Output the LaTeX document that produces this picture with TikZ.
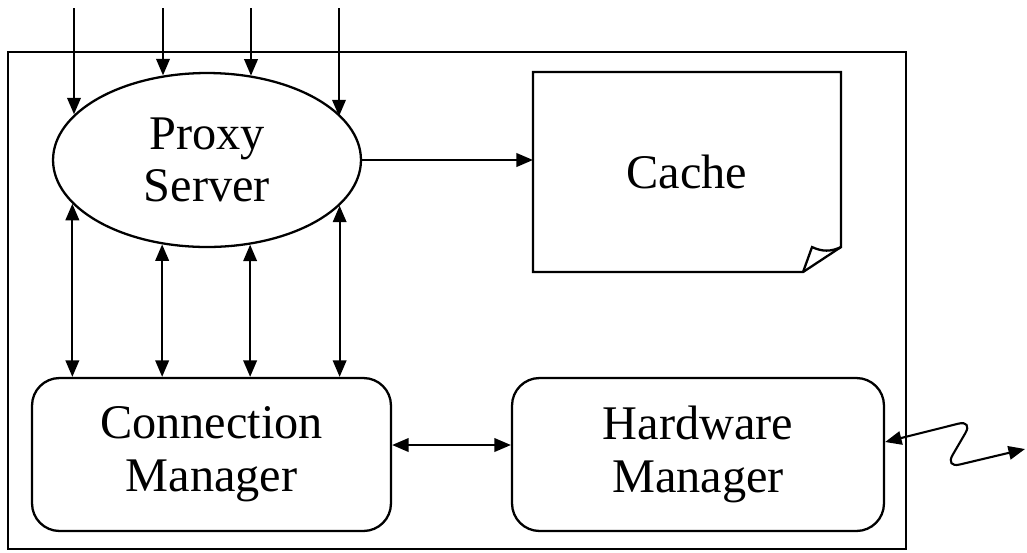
\documentclass[tikz,border=0pt]{standalone}
\usepackage{fontspec}
\setmainfont{Liberation Serif}
\usetikzlibrary{shapes.geometric,arrows.meta,calc}

\begin{document}
\begin{tikzpicture}[x=0.02cm,y=-0.02cm,line width=1.2pt,
        >={Triangle[length=0.33cm,width=0.27cm]},
        every node/.style={font=\fontsize{27.5}{30}\selectfont,align=center,inner sep=0pt},
        block/.style={draw,line width=1.3pt,rounded corners=0.55cm,minimum height=3.06cm}]
                \useasboundingbox (0,0) rectangle (1027,552);
                \draw[line width=1.3pt] (8,52) rectangle (906,549);
                \node[draw,ellipse,line width=1.3pt,minimum width=6.16cm,minimum height=3.48cm] (ps) at (207,160) {Proxy\\Server};
                \node[minimum width=6.12cm,minimum height=3.96cm] (cache) at (687,172) {Cache};
                \draw[line width=1.3pt] ($(cache.south east)+(-0.76cm,0)$) -- (cache.south west) -- (cache.north west) -- (cache.north east) -- ($(cache.south east)+(0,0.5cm)$) -- cycle;
                \draw[line width=1.3pt] ($(cache.south east)+(-0.76cm,0)$) -- ($(cache.south east)+(-0.58cm,0.5cm)$) to[bend right=25] ($(cache.south east)+(0,0.5cm)$);
                \node[block,minimum width=7.18cm] (cm) at (211.5,454.5) {Connection\\Manager};
                \node[block,minimum width=7.44cm] (hm) at (698,454.5) {Hardware\\Manager};
                \coordinate (in1) at (74,8);
                \coordinate (in2) at (163,8);
                \coordinate (in3) at (251,8);
                \coordinate (in4) at (339,8);
                \coordinate (ant) at (1025,449);
                \draw[->] (in1) -- (in1 |- ps.161.7);
                \draw[->] (in2) -- (in2 |- ps.117.8);
                \draw[->] (in3) -- (in3 |- ps.62.2);
                \draw[->] (in4) -- (in4 |- ps.18.7);
                \draw[<->] (ps.198.3) -- (ps.198.3 |- cm.north);
                \draw[<->] (ps.242.2) -- (ps.242.2 |- cm.north);
                \draw[<->] (ps.297.8) -- (ps.297.8 |- cm.north);
                \draw[<->] (ps.341.3) -- (ps.341.3 |- cm.north);
                \draw[->] (ps.east) -- (ps.east -| cache.west);
                \draw[<->] ([yshift=0.19cm]cm.east) -- ([yshift=0.19cm]hm.west);
                \draw[<->,rounded corners=0.3cm] ([yshift=0.25cm]hm.east) -- (973,420) -- (945,468) -- (ant);
            \end{tikzpicture}
\end{document}
